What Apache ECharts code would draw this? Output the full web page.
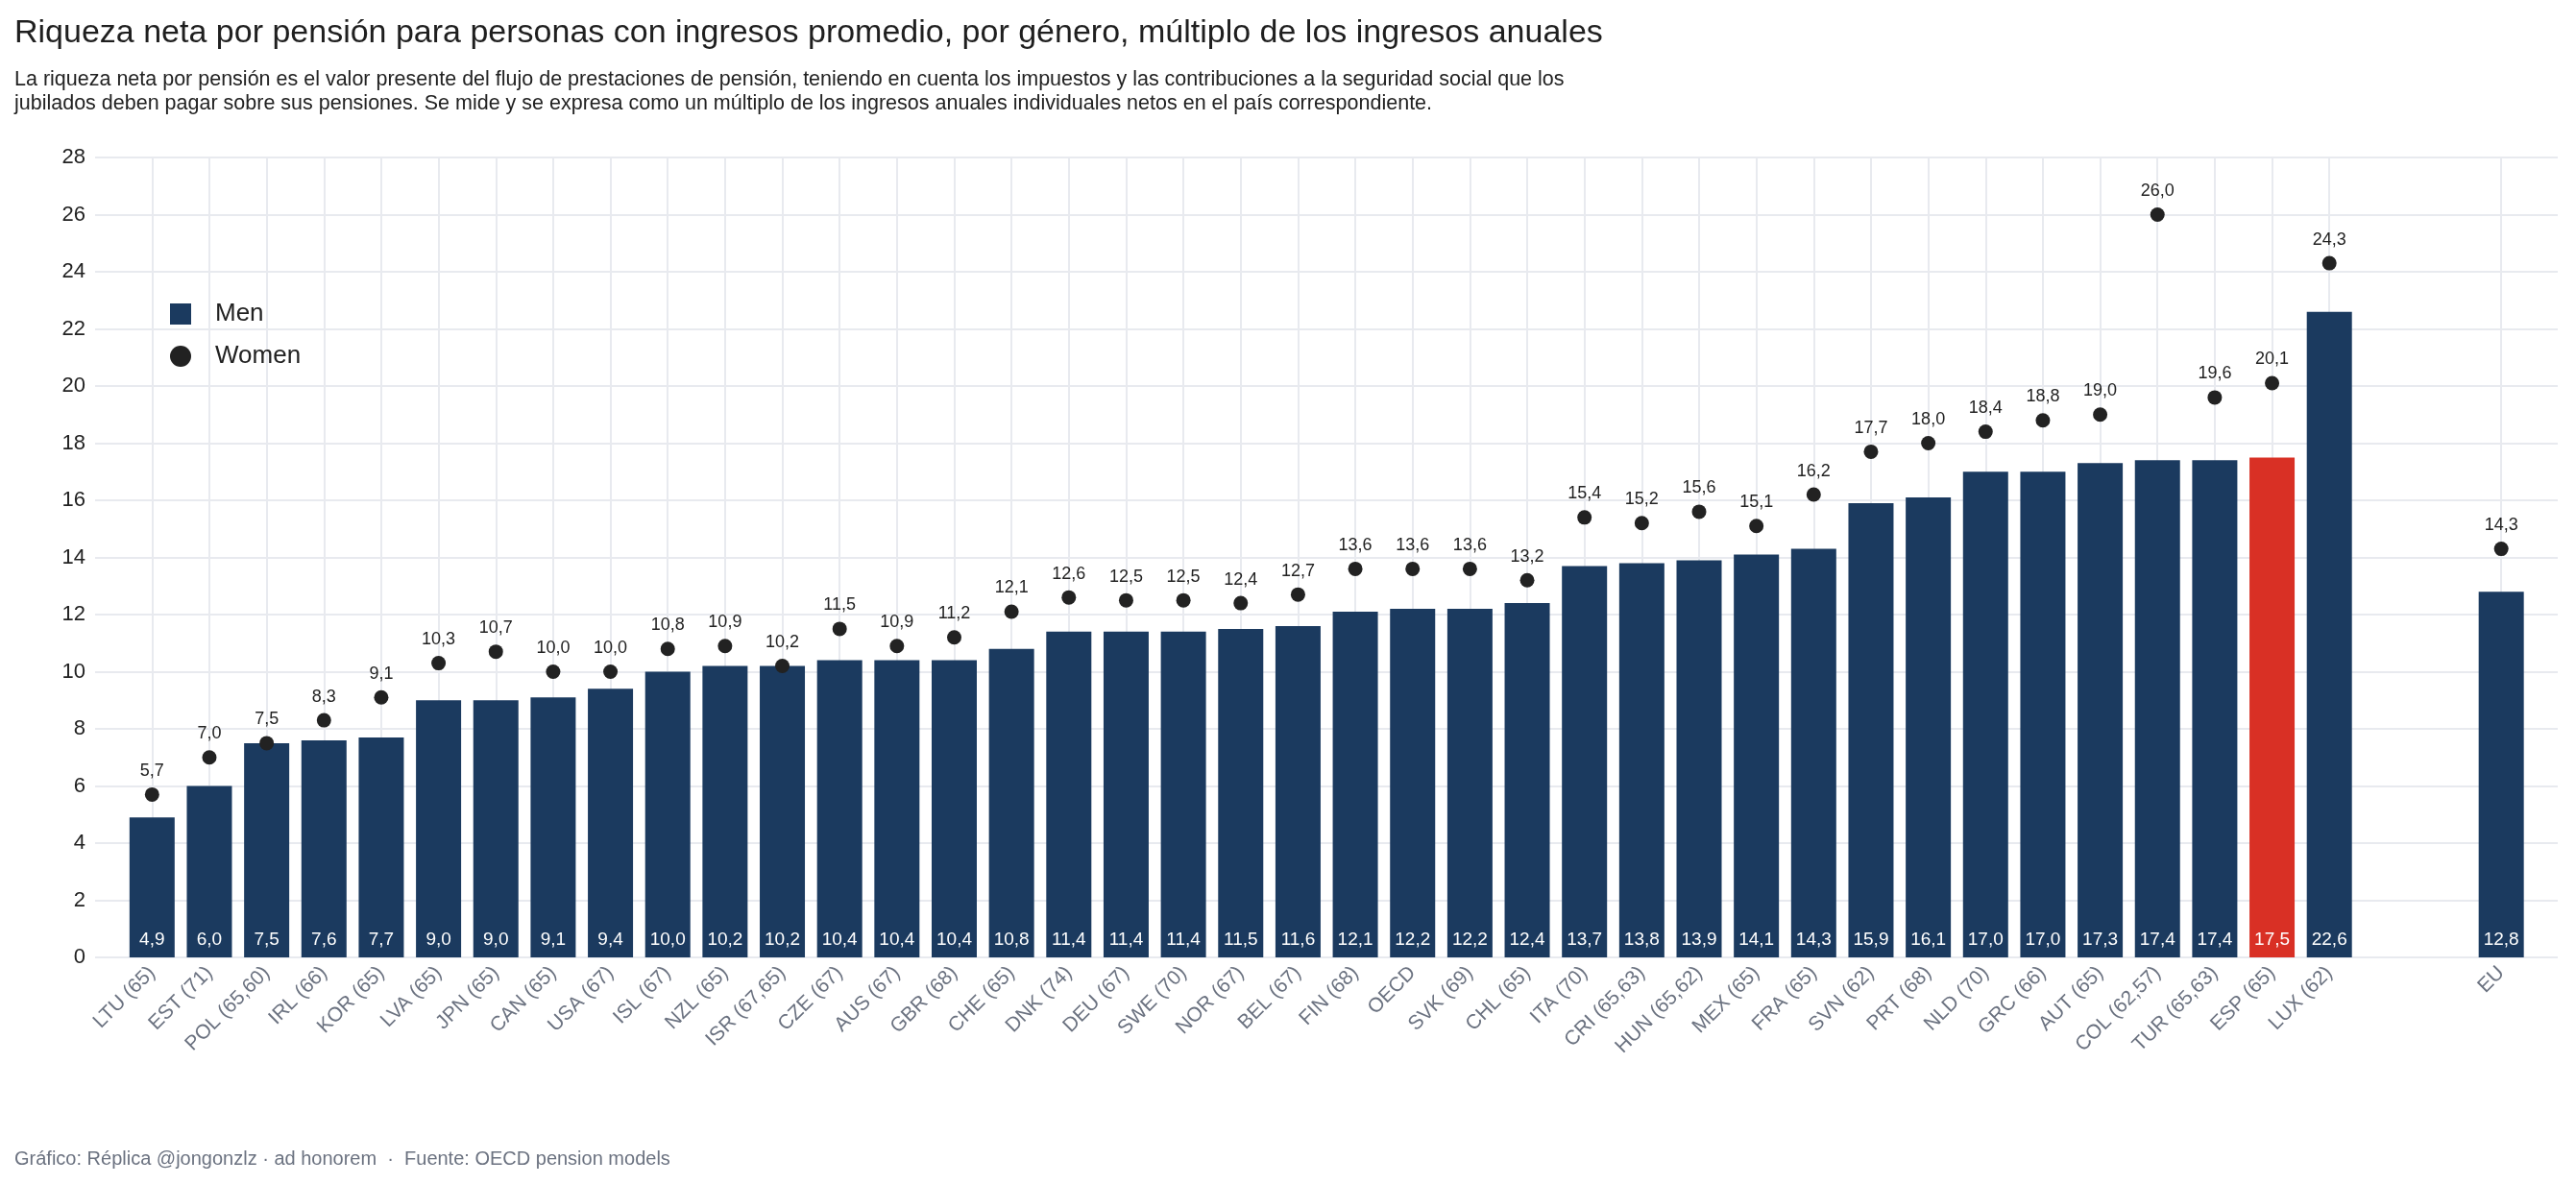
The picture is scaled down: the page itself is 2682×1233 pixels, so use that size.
<!DOCTYPE html>
<html>
<head>
<meta charset="utf-8">
<script src="https://cdn.jsdelivr.net/npm/echarts@6/dist/echarts.min.js"></script>
<style>
html,body{margin:0;padding:0;background:#fff;}
#chart{width:2682px;height:1233px;}
</style>
</head>
<body>
<div id="chart"></div>
<script>
// categorias (dos vacias antes de EU)
var paises = ["LTU (65)", "EST (71)", "POL (65,60)", "IRL (66)", "KOR (65)", "LVA (65)", "JPN (65)", "CAN (65)",
  "USA (67)", "ISL (67)", "NZL (65)", "ISR (67,65)", "CZE (67)", "AUS (67)", "GBR (68)", "CHE (65)", "DNK (74)",
  "DEU (67)", "SWE (70)", "NOR (67)", "BEL (67)", "FIN (68)", "OECD", "SVK (69)", "CHL (65)", "ITA (70)",
  "CRI (65,63)", "HUN (65,62)", "MEX (65)", "FRA (65)", "SVN (62)", "PRT (68)", "NLD (70)", "GRC (66)",
  "AUT (65)", "COL (62,57)", "TUR (65,63)", "ESP (65)", "LUX (62)", " ", "  ", "EU"];
var hombres = [4.9, 6.0, 7.5, 7.6, 7.7, 9.0, 9.0, 9.1, 9.4, 10.0, 10.2, 10.2, 10.4, 10.4, 10.4, 10.8, 11.4,
  11.4, 11.4, 11.5, 11.6, 12.1, 12.2, 12.2, 12.4, 13.7, 13.8, 13.9, 14.1, 14.3, 15.9, 16.1, 17.0, 17.0,
  17.3, 17.4, 17.4, 17.5, 22.6, null, null, 12.8];
var mujeres = [5.7, 7.0, 7.5, 8.3, 9.1, 10.3, 10.7, 10.0, 10.0, 10.8, 10.9, 10.2, 11.5, 10.9, 11.2, 12.1, 12.6,
  12.5, 12.5, 12.4, 12.7, 13.6, 13.6, 13.6, 13.2, 15.4, 15.2, 15.6, 15.1, 16.2, 17.7, 18.0, 18.4, 18.8,
  19.0, 26.0, 19.6, 20.1, 24.3, null, null, 14.3];
var destacado = "ESP (65)";
var yTicks = [0, 28, 2];

var fuente = "'Liberation Sans', Arial, sans-serif";
var azul = "#1b3a5f", rojo = "#d93025", gris = "#e8eaef";

function coma(v) { return v.toFixed(1).replace('.', ','); }

var datosH = hombres.map(function(v, i) {
  if (v == null) return '-';
  if (paises[i] == destacado) return { value: v, itemStyle: { color: rojo } };
  return v;
});
var datosM = mujeres.map(function(v) { return v == null ? '-' : v; });

var chart = echarts.init(document.getElementById('chart'));
chart.setOption({
  backgroundColor: '#fff',
  animation: false,
  textStyle: { fontFamily: fuente },
  title: [{
    text: 'Riqueza neta por pensión para personas con ingresos promedio, por género, múltiplo de los ingresos anuales',
    left: 10, top: 13,
    textStyle: { fontSize: 34, fontWeight: 'normal', color: '#1f1f1f', fontFamily: fuente }
  }, {
    text: 'La riqueza neta por pensión es el valor presente del flujo de prestaciones de pensión, teniendo en cuenta los impuestos y las contribuciones a la seguridad social que los\njubilados deben pagar sobre sus pensiones. Se mide y se expresa como un múltiplo de los ingresos anuales individuales netos en el país correspondiente.',
    left: 10, top: 66,
    textStyle: { fontSize: 21.5, lineHeight: 25, fontWeight: 'normal', color: '#222', fontFamily: fuente }
  }, {
    text: 'Gráfico: Réplica @jongonzlz · ad honorem  ·  Fuente: OECD pension models',
    left: 10, top: 1192,
    textStyle: { fontSize: 20, fontWeight: 'normal', color: '#6b7280', fontFamily: fuente }
  }],
  legend: {
    orient: 'vertical', left: 172, top: 309,
    itemWidth: 22, itemHeight: 22, itemGap: 18,
    textStyle: { fontSize: 26, color: '#222', fontFamily: fuente, padding: [0, 0, 0, 20] },
    data: [{ name: 'Men', icon: 'rect' }, { name: 'Women', icon: 'circle' }]
  },
  grid: [
    { left: 99, right: 19, top: 164, bottom: 236 },
    { left: 128.5, right: 48, top: 164, bottom: 236 }
  ],
  xAxis: [{
    gridIndex: 0, type: 'value', min: 0, max: 1, show: false
  }, {
    gridIndex: 1, type: 'category', data: paises,
    axisLine: { show: false }, axisTick: { show: false },
    axisLabel: { rotate: 45, margin: 13, fontSize: 21, color: '#6b7280', fontFamily: fuente, interval: 0 },
    splitLine: {
      show: true, alignWithLabel: true,
      interval: function(i, v) { return v.trim() !== ''; },
      lineStyle: { color: gris, width: 2 }
    }
  }],
  yAxis: [{
    gridIndex: 0, type: 'value', min: yTicks[0], max: yTicks[1], interval: yTicks[2],
    axisLine: { show: false }, axisTick: { show: false },
    axisLabel: { fontSize: 22, color: '#222', margin: 10, fontFamily: fuente },
    splitLine: { lineStyle: { color: gris, width: 2 } }
  }, {
    gridIndex: 1, type: 'value', min: yTicks[0], max: yTicks[1], interval: yTicks[2], show: false,
    splitLine: { show: false }
  }],
  series: [{
    name: 'Men', type: 'bar', xAxisIndex: 1, yAxisIndex: 1,
    data: datosH, barWidth: 47, z: 3,
    itemStyle: { color: azul },
    label: {
      show: true, position: 'insideBottom', distance: 9,
      color: '#fff', fontSize: 19, fontFamily: fuente,
      formatter: function(p) { return coma(p.value); }
    }
  }, {
    name: 'Women', type: 'scatter', xAxisIndex: 1, yAxisIndex: 1,
    data: datosM, symbol: 'circle', symbolSize: 15, z: 4,
    itemStyle: { color: '#222', opacity: 1 },
    label: {
      show: true, position: 'top', distance: 8,
      color: '#222', fontSize: 18, fontFamily: fuente,
      formatter: function(p) { return coma(p.value[1] != null ? p.value[1] : p.value); }
    }
  }]
});
</script>
</body>
</html>
